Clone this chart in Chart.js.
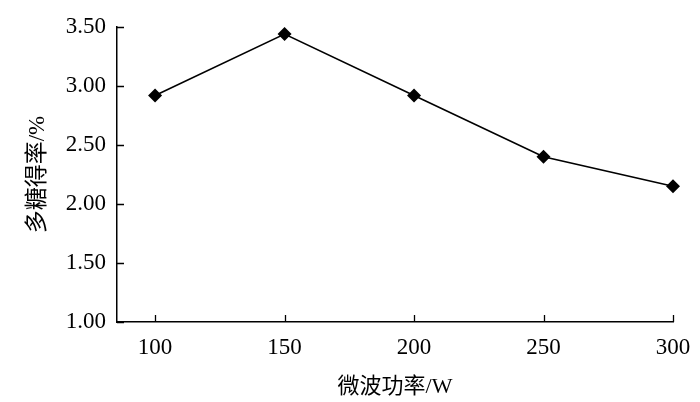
<!DOCTYPE html>
<html>
<head>
<meta charset="utf-8">
<script src="https://cdn.jsdelivr.net/npm/chart.js@4/dist/chart.umd.min.js"></script>
<style>
html,body{margin:0;padding:0;background:#fff;}
#wrap{width:700px;height:402px;}
</style>
</head>
<body>
<div id="wrap"><canvas id="c" width="700" height="402"></canvas></div>
<script>
const powers = [100, 150, 200, 250, 300];
const yields = [2.92, 3.44, 2.92, 2.40, 2.15];
const xTicks = [100, 150, 200, 250, 300];
const yTicks = [1.00, 1.50, 2.00, 2.50, 3.00, 3.50];
const xTitle = '微波功率/W';
const yTitle = '多糖得率/%';

const serif = '"Liberation Serif", "Times New Roman", "Noto Sans CJK SC", serif';

const inwardTicks = {
  id: 'inwardTicks',
  afterDatasetsDraw(chart) {
    const ctx = chart.ctx;
    const xs = chart.scales.x, ys = chart.scales.y;
    const a = chart.chartArea;
    ctx.save();
    ctx.strokeStyle = '#000';
    ctx.lineWidth = 1.3;
    ctx.beginPath();
    xTicks.forEach(v => {
      const px = Math.round(xs.getPixelForValue(v)) + 0.5;
      ctx.moveTo(px, a.bottom);
      ctx.lineTo(px, a.bottom - 7);
    });
    yTicks.forEach(v => {
      const py = Math.round(ys.getPixelForValue(v)) + 0.5;
      ctx.moveTo(a.left, py);
      ctx.lineTo(a.left + 7, py);
    });
    ctx.stroke();
    ctx.restore();
  }
};

new Chart(document.getElementById('c'), {
  type: 'line',
  data: {
    labels: powers,
    datasets: [{
      data: powers.map((p, i) => ({x: p, y: yields[i]})),
      borderColor: '#000',
      backgroundColor: '#000',
      borderWidth: 1.6,
      pointStyle: 'rectRot',
      pointRadius: 7,
      pointHoverRadius: 7,
      pointBackgroundColor: '#000',
      pointBorderColor: '#000',
      pointBorderWidth: 0,
      tension: 0,
      clip: false
    }]
  },
  options: {
    responsive: false,
    animation: false,
    events: [],
    layout: { padding: { top: 27, right: 27, left: 0, bottom: 0 } },
    plugins: { legend: { display: false }, tooltip: { enabled: false } },
    scales: {
      x: {
        type: 'linear',
        min: 85.3,
        max: 300,
        afterBuildTicks: s => { s.ticks = xTicks.map(v => ({value: v})); },
        afterFit: s => { s.height = 80; s.paddingRight = 0; s.paddingLeft = 0; },
        grid: { display: false, drawTicks: false },
        border: { display: true, color: '#000', width: 1.5 },
        ticks: {
          color: '#000',
          font: { family: serif, size: 23 },
          padding: 12,
          maxRotation: 0,
          autoSkip: false,
          callback: v => String(v)
        },
        title: {
          display: true,
          text: xTitle,
          color: '#000',
          font: { family: serif, size: 22 },
          padding: { top: 0, bottom: 2 }
        }
      },
      y: {
        min: 1.0,
        max: 3.5,
        afterBuildTicks: s => { s.ticks = yTicks.map(v => ({value: v})); },
        afterFit: s => { s.width = 117; },
        grid: { display: false, drawTicks: false },
        border: { display: true, color: '#000', width: 1.5 },
        ticks: {
          color: '#000',
          font: { family: serif, size: 23 },
          padding: 11,
          callback: v => Number(v).toFixed(2)
        },
        title: {
          display: true,
          text: yTitle,
          color: '#000',
          font: { family: serif, size: 23 },
          padding: { top: 24, bottom: 0 }
        }
      }
    }
  },
  plugins: [inwardTicks]
});
</script>
</body>
</html>
